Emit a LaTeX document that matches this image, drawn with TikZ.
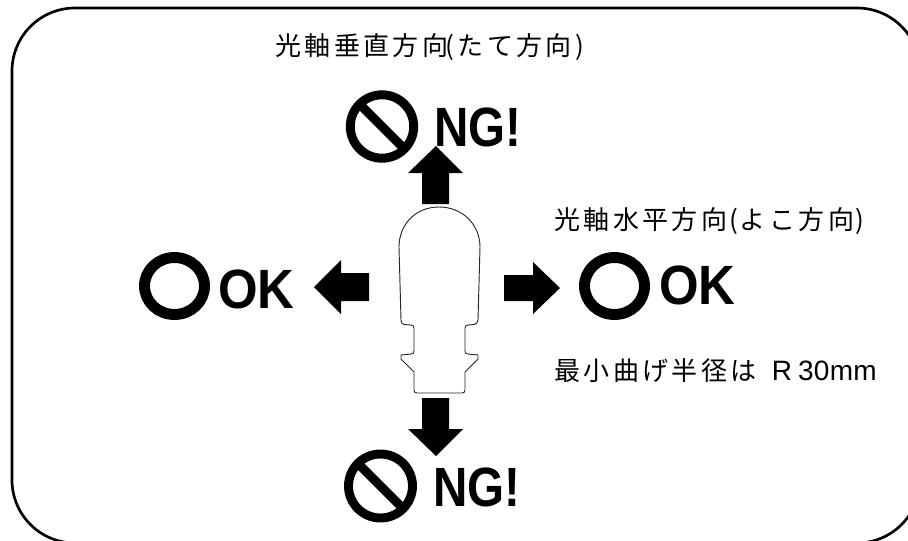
\documentclass[tikz,border=0pt]{standalone}
\usepackage{fontspec}
\setmainfont{Liberation Sans}
\newfontfamily\cjk[LetterSpace=13]{Noto Sans CJK JP}
\newfontfamily\latinsp[LetterSpace=1]{Liberation Sans}
\newfontfamily\ngfont[FakeStretch=0.86]{Liberation Sans Bold}
\newfontfamily\okfont[FakeStretch=0.92]{Liberation Sans Bold}
\tikzset{
  frame/.style={line width=2pt,black},
  label/.style={anchor=base west,inner sep=0pt,font=\fontsize{19.5}{22}\cjk},
  verdictng/.style={anchor=base west,inner sep=0pt,font=\fontsize{41.5}{44}\ngfont},
  verdictok/.style={anchor=base west,inner sep=0pt,font=\fontsize{41.5}{44}\okfont},
  ring/.style={line width=8.2pt,black},
  noring/.style={line width=6.7pt,black},
  bar/.style={line width=6.7pt,black},
  fat/.style={fill=black,draw=none},
  lamp/.style={line width=.7pt,black!85,line join=round}
}
\begin{document}
\begin{tikzpicture}[x=.75pt,y=-.75pt]
\useasboundingbox (0,0) rectangle (908,540);
\clip (0,0) rectangle (908,540);
% frame
\draw[frame,rounded corners=47.25pt] (12,8) rectangle (920,543);
% labels
\node[label] (tv) at (275,55) {光軸垂直方向\hspace{-2pt}(たて方向)};
\node[label] (yk) at (554,229) {光軸水平方向\hspace{2pt}(\hspace{1pt}よこ方向\hspace{1pt})};
\node[label] (rr) at (554,380) {最小曲げ半径は\hspace{11.5pt}{\fontsize{21}{22}\latinsp R\hspace{4.5pt}30mm}};
% verdicts
\node[verdictng] (ngt) at (434,146.5) {NG!};
\node[verdictng] (ngb) at (433,506) {NG!};
\node[verdictok] (okl) at (218,308.5) {OK};
\node[verdictok] (okr) at (659,304) {OK};
% rings
\draw[ring] (174.5,286) ellipse [x radius=30,y radius=28.5];
\draw[ring] (614.5,286) ellipse [x radius=30,y radius=28.5];
% prohibition signs
\draw[noring] (382,126.5) circle [radius=31.7];
\draw[bar] (359,103.5) -- (405,149.5);
\draw[noring] (380.5,486) circle [radius=32];
\draw[bar] (357.5,463) -- (403.5,509);
% arrows
\fill[fat] (436,146) -- (463,173) -- (449,173) -- (449,204) -- (422,204) -- (422,173) -- (408,173) -- cycle;
\fill[fat] (436,456) -- (463,429) -- (449,429) -- (449,398) -- (422,398) -- (422,429) -- (408,429) -- cycle;
\fill[fat] (314,287) -- (341,260) -- (341,273) -- (369,273) -- (369,301) -- (341,301) -- (341,314) -- cycle;
\fill[fat] (560,288) -- (533,262) -- (533,275) -- (504,275) -- (504,301) -- (533,301) -- (533,314) -- cycle;
% lamp
\draw[lamp] (439,207)
  .. controls (415,207) and (399,225) .. (399,247)
  -- (401,320) .. controls (401.3,323) and (402,324) .. (404,324.5)
  -- (411,325) .. controls (413,325.3) and (414,326) .. (414,328)
  -- (414,351) .. controls (414,353) and (413,354) .. (411,354)
  -- (401,355) -- (401,359) -- (414,372) -- (414,390)
  .. controls (414,392) and (415,393) .. (417,393)
  -- (462,393) .. controls (464,393) and (465,392) .. (465,390)
  -- (465,372) -- (478,359) -- (478,355) -- (468,354)
  .. controls (466,354) and (465,353) .. (465,351)
  -- (465,328) .. controls (465,326) and (466,325.3) .. (468,325)
  -- (474,324.5) .. controls (476,324) and (477.7,323) .. (478,320)
  -- (480,247) .. controls (480,225) and (463,207) .. (439,207) -- cycle;
\end{tikzpicture}
\end{document}
